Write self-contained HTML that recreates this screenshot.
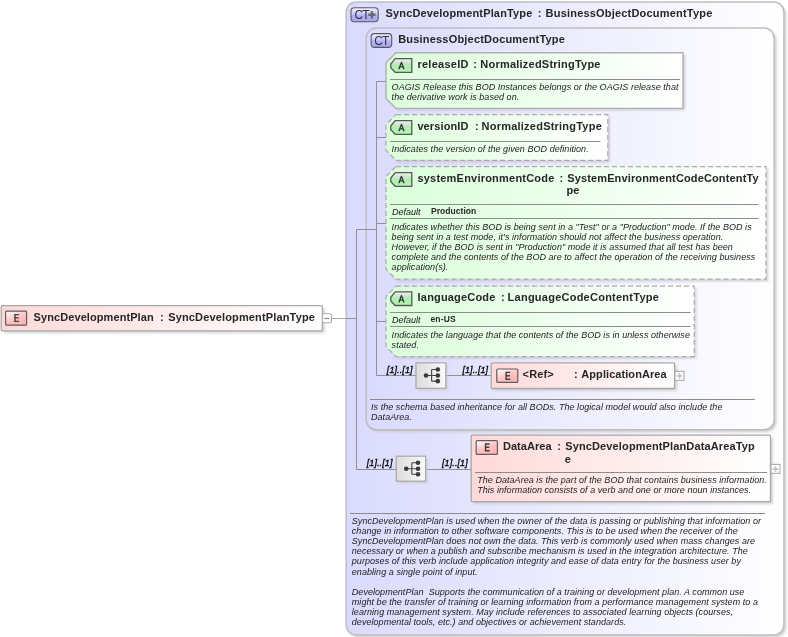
<!DOCTYPE html>
<html><head><meta charset="utf-8"><title>SyncDevelopmentPlan</title>
<style>
html,body{margin:0;padding:0;background:#FFFFFF;width:788px;height:637px;overflow:hidden}
#wrap{position:relative;width:788px;height:637px;overflow:hidden;font-family:"Liberation Sans", sans-serif}
svg{position:absolute;left:0;top:0}
#tx{position:absolute;left:0;top:0;width:788px;height:637px;will-change:transform}
#tx div{position:absolute;white-space:nowrap}
</style></head><body><div id="wrap">
<svg width="788" height="637" viewBox="0 0 788 637">
<defs>
<linearGradient id="gCT" x1="0" y1="0" x2="1" y2="0"><stop offset="0" stop-color="#DADAFE"/><stop offset="1" stop-color="#FFFFFF"/></linearGradient>
<linearGradient id="gAttr" x1="0" y1="0" x2="1" y2="0"><stop offset="0" stop-color="#DBFEDB"/><stop offset="1" stop-color="#FFFFFF"/></linearGradient>
<linearGradient id="gElem" x1="0" y1="0" x2="1" y2="0"><stop offset="0" stop-color="#FFD9D9"/><stop offset="1" stop-color="#FFFFFF"/></linearGradient>
<linearGradient id="gSeq" x1="0" y1="0" x2="1" y2="0"><stop offset="0" stop-color="#DCDCDC"/><stop offset="1" stop-color="#FAFAFA"/></linearGradient>
<linearGradient id="gCTb" x1="0" y1="0" x2="0" y2="1"><stop offset="0" stop-color="#EEEEFF"/><stop offset="0.35" stop-color="#D4D4FC"/><stop offset="0.55" stop-color="#B4B4FA"/><stop offset="1" stop-color="#A4A4F6"/></linearGradient>
<linearGradient id="gAb" x1="0" y1="0" x2="0" y2="1"><stop offset="0" stop-color="#EEF4EE"/><stop offset="0.4" stop-color="#C8E0C8"/><stop offset="0.55" stop-color="#A8F4A8"/><stop offset="1" stop-color="#C0ECC0"/></linearGradient>
<linearGradient id="gEb" x1="0" y1="0" x2="0.6" y2="1"><stop offset="0" stop-color="#FFFFFF"/><stop offset="0.35" stop-color="#FFDEDE"/><stop offset="0.6" stop-color="#FFC2C2"/><stop offset="1" stop-color="#FFB4B4"/></linearGradient>
<filter id="blur" x="-5%" y="-5%" width="110%" height="110%"><feGaussianBlur stdDeviation="1.0"/></filter>
</defs>
<rect x="3.7" y="308.1" width="321.2" height="25.2" fill="#C8C8C8" filter="url(#blur)" opacity="0.7"/>
<rect x="1.2" y="305.6" width="321.2" height="25.2" rx="1" fill="url(#gElem)" stroke="#A8A8A8" stroke-width="1.3"/>
<rect x="5.6" y="311.2" width="21" height="14" rx="1" fill="url(#gEb)" stroke="#5E5E5E" stroke-width="1.2"/>
<path d="M14.95 313.90V322.10M14.20 314.60H19.10M14.20 317.90H18.70M14.20 321.40H19.10" stroke="#404040" stroke-width="1.4" fill="none"/>
<rect x="322.5" y="313.7" width="9" height="9" rx="1.5" fill="#FFFFFF" stroke="#ABABAB" stroke-width="1.1"/>
<path d="M324.3 318.5H329.3" stroke="#8C8C8C" stroke-width="1.2"/>
<line x1="331.5" y1="318.5" x2="346" y2="318.5" stroke="#A8A8A8" stroke-width="1"/>
<rect x="348.7" y="4.5" width="437.7" height="632.9" rx="10" fill="#C8C8C8" filter="url(#blur)" opacity="0.8"/>
<rect x="346.2" y="2" width="437.7" height="632.9" rx="10" fill="url(#gCT)" stroke="#BEBEBE" stroke-width="1.5"/>
<rect x="351" y="7.7" width="27.2" height="14" rx="3.5" fill="url(#gCTb)" stroke="#5A5A5A" stroke-width="1.1"/>
<path d="M368.29999999999995 14.799999999999999H375.5M371.9 11.2V18.4" stroke="#6A6A6A" stroke-width="2.6"/>
<rect x="368.7" y="30.5" width="408" height="401.8" rx="10" fill="#C8C8C8" filter="url(#blur)" opacity="0.8"/>
<rect x="366.2" y="28" width="408" height="401.8" rx="10" fill="url(#gCT)" stroke="#BEBEBE" stroke-width="1.5"/>
<rect x="371.1" y="33.6" width="20.6" height="13.8" rx="3.5" fill="url(#gCTb)" stroke="#5A5A5A" stroke-width="1.1"/>
<line x1="346" y1="318.5" x2="356.5" y2="318.5" stroke="#909090" stroke-width="1"/>
<line x1="356.5" y1="229.5" x2="356.5" y2="469.5" stroke="#909090" stroke-width="1"/>
<line x1="356.5" y1="229.5" x2="376.5" y2="229.5" stroke="#909090" stroke-width="1"/>
<line x1="356.5" y1="469.5" x2="396" y2="469.5" stroke="#909090" stroke-width="1"/>
<line x1="376.5" y1="81.5" x2="376.5" y2="375.5" stroke="#909090" stroke-width="1"/>
<line x1="376.5" y1="81.5" x2="386" y2="81.5" stroke="#909090" stroke-width="1"/>
<line x1="376.5" y1="137.5" x2="386" y2="137.5" stroke="#909090" stroke-width="1"/>
<line x1="376.5" y1="223.5" x2="386" y2="223.5" stroke="#909090" stroke-width="1"/>
<line x1="376.5" y1="321.5" x2="386" y2="321.5" stroke="#909090" stroke-width="1"/>
<line x1="376.5" y1="375.5" x2="416" y2="375.5" stroke="#909090" stroke-width="1"/>
<line x1="446" y1="375.5" x2="491" y2="375.5" stroke="#909090" stroke-width="1"/>
<line x1="426" y1="469.5" x2="471.5" y2="469.5" stroke="#909090" stroke-width="1"/>
<path d="M398.2 55.0H685.2V110.6H398.2L388.2 100.6V65.0Z" fill="#C4C4CC" filter="url(#blur)" opacity="0.75"/>
<path d="M396 52.8H683V108.4H396L386 98.4V62.8Z" fill="url(#gAttr)" stroke="#B0B0B0" stroke-width="1.4"/>
<path d="M395.2 58.6H411.8V72.3H395.2L390.8 67.8V64.1Z" fill="url(#gAb)" stroke="#525A52" stroke-width="1.3"/>
<path d="M398.85 69.30L401.45 62.30L404.05 69.30M399.95 66.90H402.95" stroke="#333" stroke-width="1.25" fill="none" stroke-linejoin="round"/>
<line x1="390" y1="79.5" x2="680" y2="79.5" stroke="#8C8C8C" stroke-width="1"/>
<path d="M398.2 116.9H610.0V162.5H398.2L388.2 152.5V126.9Z" fill="#C4C4CC" filter="url(#blur)" opacity="0.75"/>
<path d="M396 114.7H607.8V160.3H396L386 150.3V124.7Z" fill="url(#gAttr)" stroke="#ABABAB" stroke-width="1.2" stroke-dasharray="5 3"/>
<path d="M395.2 120.6H411.8V134.29999999999998H395.2L390.8 129.79999999999998V126.1Z" fill="url(#gAb)" stroke="#525A52" stroke-width="1.3"/>
<path d="M398.85 131.30L401.45 124.30L404.05 131.30M399.95 128.90H402.95" stroke="#333" stroke-width="1.25" fill="none" stroke-linejoin="round"/>
<line x1="390" y1="141.5" x2="600.5" y2="141.5" stroke="#8C8C8C" stroke-width="1"/>
<path d="M398.2 168.79999999999998H768.2V281.4H398.2L388.2 271.4V178.79999999999998Z" fill="#C4C4CC" filter="url(#blur)" opacity="0.75"/>
<path d="M396 166.6H766V279.2H396L386 269.2V176.6Z" fill="url(#gAttr)" stroke="#ABABAB" stroke-width="1.2" stroke-dasharray="5 3"/>
<path d="M395.2 172.6H411.8V186.29999999999998H395.2L390.8 181.79999999999998V178.1Z" fill="url(#gAb)" stroke="#525A52" stroke-width="1.3"/>
<path d="M398.85 183.30L401.45 176.30L404.05 183.30M399.95 180.90H402.95" stroke="#333" stroke-width="1.25" fill="none" stroke-linejoin="round"/>
<line x1="390" y1="204.5" x2="758.5" y2="204.5" stroke="#8C8C8C" stroke-width="1"/>
<line x1="390" y1="218.5" x2="758.5" y2="218.5" stroke="#8C8C8C" stroke-width="1"/>
<path d="M398.2 288.4H696.4V358.79999999999995H398.2L388.2 348.79999999999995V298.4Z" fill="#C4C4CC" filter="url(#blur)" opacity="0.75"/>
<path d="M396 286.2H694.2V356.6H396L386 346.6V296.2Z" fill="url(#gAttr)" stroke="#ABABAB" stroke-width="1.2" stroke-dasharray="5 3"/>
<path d="M395.2 291.8H411.8V305.5H395.2L390.8 301.0V297.3Z" fill="url(#gAb)" stroke="#525A52" stroke-width="1.3"/>
<path d="M398.85 302.50L401.45 295.50L404.05 302.50M399.95 300.10H402.95" stroke="#333" stroke-width="1.25" fill="none" stroke-linejoin="round"/>
<line x1="390" y1="312.5" x2="690.5" y2="312.5" stroke="#8C8C8C" stroke-width="1"/>
<line x1="390" y1="326.5" x2="690.5" y2="326.5" stroke="#8C8C8C" stroke-width="1"/>
<rect x="418" y="364.8" width="29.8" height="25.5" fill="#C8C8C8" filter="url(#blur)" opacity="0.7"/>
<rect x="416" y="362.8" width="29.8" height="25.5" fill="url(#gSeq)" stroke="#A8A8A8" stroke-width="1.2"/>
<path d="M426 375.55H431.6M431.6 369.55V381.15000000000003M431.6 369.55H437.8M431.6 381.15000000000003H437.8M431.6 375.55H437.8" stroke="#444" stroke-width="1.1" fill="none"/>
<circle cx="426" cy="375.55" r="2.3" fill="#3A3A3A"/>
<circle cx="437.8" cy="369.55" r="2.3" fill="#3A3A3A"/>
<circle cx="437.8" cy="375.55" r="2.3" fill="#3A3A3A"/>
<circle cx="437.8" cy="381.15000000000003" r="2.3" fill="#3A3A3A"/>
<rect x="493.7" y="365.4" width="183.4" height="25.6" fill="#C8C8C8" filter="url(#blur)" opacity="0.7"/>
<rect x="491.2" y="362.9" width="183.4" height="25.6" rx="1" fill="url(#gElem)" stroke="#A8A8A8" stroke-width="1.3"/>
<rect x="496.8" y="369" width="21" height="13.4" rx="1" fill="url(#gEb)" stroke="#5E5E5E" stroke-width="1.2"/>
<path d="M506.15 371.70V379.90M505.40 372.40H510.30M505.40 375.70H509.90M505.40 379.20H510.30" stroke="#404040" stroke-width="1.4" fill="none"/>
<rect x="675" y="371.3" width="9" height="9" rx="0" fill="#FFFFFF" stroke="#ABABAB" stroke-width="1.1"/>
<path d="M676.7 375.90000000000003H682.3M679.5 373.1V378.7" stroke="#C6C6C6" stroke-width="1.9"/>
<line x1="370" y1="399.5" x2="755" y2="399.5" stroke="#8C8C8C" stroke-width="1"/>
<rect x="398.2" y="458.2" width="29.4" height="25" fill="#C8C8C8" filter="url(#blur)" opacity="0.7"/>
<rect x="396.2" y="456.2" width="29.4" height="25" fill="url(#gSeq)" stroke="#A8A8A8" stroke-width="1.2"/>
<path d="M406.2 468.7H411.8M411.8 462.7V474.3M411.8 462.7H418.0M411.8 474.3H418.0M411.8 468.7H418.0" stroke="#444" stroke-width="1.1" fill="none"/>
<circle cx="406.2" cy="468.7" r="2.3" fill="#3A3A3A"/>
<circle cx="418.0" cy="462.7" r="2.3" fill="#3A3A3A"/>
<circle cx="418.0" cy="468.7" r="2.3" fill="#3A3A3A"/>
<circle cx="418.0" cy="474.3" r="2.3" fill="#3A3A3A"/>
<rect x="473.7" y="437.6" width="299.3" height="66.6" fill="#C8C8C8" filter="url(#blur)" opacity="0.7"/>
<rect x="471.2" y="435.1" width="299.3" height="66.6" rx="1" fill="url(#gElem)" stroke="#A8A8A8" stroke-width="1.3"/>
<rect x="476.2" y="440.6" width="21.2" height="13.8" rx="1" fill="url(#gEb)" stroke="#5E5E5E" stroke-width="1.2"/>
<path d="M485.55 443.30V451.50M484.80 444.00H489.70M484.80 447.30H489.30M484.80 450.80H489.70" stroke="#404040" stroke-width="1.4" fill="none"/>
<line x1="475" y1="472.5" x2="767" y2="472.5" stroke="#8C8C8C" stroke-width="1"/>
<rect x="771" y="464.4" width="9" height="9" rx="0" fill="#FFFFFF" stroke="#ABABAB" stroke-width="1.1"/>
<path d="M772.7 469.0H778.3M775.5 466.2V471.79999999999995" stroke="#C6C6C6" stroke-width="1.9"/>
<line x1="350" y1="513.5" x2="765" y2="513.5" stroke="#8C8C8C" stroke-width="1"/>
</svg>
<div id="tx">
<div style="left:33.60px;top:310.69px;font-size:11px;line-height:13px;font-weight:bold;font-style:normal;letter-spacing:0.083px;color:#262626;">SyncDevelopmentPlan</div>
<div style="left:159.90px;top:310.69px;font-size:11px;line-height:13px;font-weight:bold;font-style:normal;letter-spacing:0.15px;color:#262626;">:</div>
<div style="left:168.20px;top:310.69px;font-size:11px;line-height:13px;font-weight:bold;font-style:normal;letter-spacing:0.148px;color:#262626;">SyncDevelopmentPlanType</div>
<div style="left:354.6px;top:9.3px;font-size:12px;line-height:13px;color:#333;letter-spacing:-1.0px">CT</div>
<div style="left:385.60px;top:7.49px;font-size:11px;line-height:13px;font-weight:bold;font-style:normal;letter-spacing:0.148px;color:#262626;">SyncDevelopmentPlanType</div>
<div style="left:537.70px;top:7.49px;font-size:11px;line-height:13px;font-weight:bold;font-style:normal;letter-spacing:0.15px;color:#262626;">:</div>
<div style="left:545.60px;top:7.49px;font-size:11px;line-height:13px;font-weight:bold;font-style:normal;letter-spacing:0.196px;color:#262626;">BusinessObjectDocumentType</div>
<div style="left:374.3px;top:35.2px;font-size:12px;line-height:13px;color:#333;letter-spacing:-1.0px">CT</div>
<div style="left:398.20px;top:33.39px;font-size:11px;line-height:13px;font-weight:bold;font-style:normal;letter-spacing:0.196px;color:#262626;">BusinessObjectDocumentType</div>
<div style="left:417.40px;top:58.49px;font-size:11px;line-height:13px;font-weight:bold;font-style:normal;letter-spacing:0.275px;color:#262626;">releaseID</div>
<div style="left:473.20px;top:58.49px;font-size:11px;line-height:13px;font-weight:bold;font-style:normal;letter-spacing:0.15px;color:#262626;">:</div>
<div style="left:480.30px;top:58.49px;font-size:11px;line-height:13px;font-weight:bold;font-style:normal;letter-spacing:0.224px;color:#262626;">NormalizedStringType</div>
<div style="left:391.6px;top:82.28px;font-size:9px;line-height:10px;font-style:italic;letter-spacing:0.05px;color:#1C1C1C">OAGIS Release this BOD Instances belongs or the OAGIS release that<br>the derivative work is based on.</div>
<div style="left:417.40px;top:120.49px;font-size:11px;line-height:13px;font-weight:bold;font-style:normal;letter-spacing:0.114px;color:#262626;">versionID</div>
<div style="left:475.00px;top:120.49px;font-size:11px;line-height:13px;font-weight:bold;font-style:normal;letter-spacing:0.15px;color:#262626;">:</div>
<div style="left:481.60px;top:120.49px;font-size:11px;line-height:13px;font-weight:bold;font-style:normal;letter-spacing:0.224px;color:#262626;">NormalizedStringType</div>
<div style="left:391.6px;top:144.38px;font-size:9px;line-height:10px;font-style:italic;letter-spacing:0.05px;color:#1C1C1C">Indicates the version of the given BOD definition.</div>
<div style="left:417.40px;top:171.89px;font-size:11px;line-height:13px;font-weight:bold;font-style:normal;letter-spacing:0.215px;color:#262626;">systemEnvironmentCode</div>
<div style="left:559.50px;top:171.89px;font-size:11px;line-height:13px;font-weight:bold;font-style:normal;letter-spacing:0.15px;color:#262626;">:</div>
<div style="left:567.20px;top:171.89px;font-size:11px;line-height:13px;font-weight:bold;font-style:normal;letter-spacing:0.137px;color:#262626;">SystemEnvironmentCodeContentTy</div>
<div style="left:566.50px;top:184.29px;font-size:11px;line-height:13px;font-weight:bold;font-style:normal;letter-spacing:0.15px;color:#262626;">pe</div>
<div style="left:391.90px;top:207.48px;font-size:9px;line-height:10px;font-weight:normal;font-style:italic;letter-spacing:0.02px;color:#141414;">Default</div>
<div style="left:431.00px;top:205.95px;font-size:8.5px;line-height:10px;font-weight:bold;font-style:normal;letter-spacing:0.05px;color:#262626;">Production</div>
<div style="left:391.6px;top:222.38px;font-size:9px;line-height:10px;font-style:italic;letter-spacing:0.05px;color:#1C1C1C">Indicates whether this BOD is being sent in a &quot;Test&quot; or a &quot;Production&quot; mode. If the BOD is<br>being sent in a test mode, it&#x27;s information should not affect the business operation.<br>However, if the BOD is sent in &quot;Production&quot; mode it is assumed that all test has been<br>complete and the contents of the BOD are to affect the operation of the receiving business<br>application(s).</div>
<div style="left:417.60px;top:291.49px;font-size:11px;line-height:13px;font-weight:bold;font-style:normal;letter-spacing:0.18px;color:#262626;">languageCode</div>
<div style="left:500.90px;top:291.49px;font-size:11px;line-height:13px;font-weight:bold;font-style:normal;letter-spacing:0.15px;color:#262626;">:</div>
<div style="left:507.60px;top:291.49px;font-size:11px;line-height:13px;font-weight:bold;font-style:normal;letter-spacing:0.245px;color:#262626;">LanguageCodeContentType</div>
<div style="left:391.90px;top:315.38px;font-size:9px;line-height:10px;font-weight:normal;font-style:italic;letter-spacing:0.02px;color:#141414;">Default</div>
<div style="left:430.40px;top:313.85px;font-size:8.5px;line-height:10px;font-weight:bold;font-style:normal;letter-spacing:0.2px;color:#262626;">en-US</div>
<div style="left:391.6px;top:329.58px;font-size:9px;line-height:10px;font-style:italic;letter-spacing:0.05px;color:#1C1C1C">Indicates the language that the contents of the BOD is in unless otherwise<br>stated.</div>
<div style="left:386.80px;top:364.68px;font-size:9px;line-height:10px;font-weight:normal;font-style:italic;letter-spacing:0.1px;color:#000;-webkit-text-stroke:0.3px #000">[1]..[1]</div>
<div style="left:462.40px;top:364.68px;font-size:9px;line-height:10px;font-weight:normal;font-style:italic;letter-spacing:0.1px;color:#000;-webkit-text-stroke:0.3px #000">[1]..[1]</div>
<div style="left:522.60px;top:368.19px;font-size:11px;line-height:13px;font-weight:bold;font-style:normal;letter-spacing:0.15px;color:#262626;">&lt;Ref&gt;</div>
<div style="left:573.90px;top:368.19px;font-size:11px;line-height:13px;font-weight:bold;font-style:normal;letter-spacing:0.15px;color:#262626;">:</div>
<div style="left:581.30px;top:368.19px;font-size:11px;line-height:13px;font-weight:bold;font-style:normal;letter-spacing:0.069px;color:#262626;">ApplicationArea</div>
<div style="left:371.0px;top:402.48px;font-size:9px;line-height:10px;font-style:italic;letter-spacing:0.05px;color:#1C1C1C">Is the schema based inheritance for all BODs. The logical model would also include the<br>DataArea.</div>
<div style="left:366.70px;top:458.08px;font-size:9px;line-height:10px;font-weight:normal;font-style:italic;letter-spacing:0.1px;color:#000;-webkit-text-stroke:0.3px #000">[1]..[1]</div>
<div style="left:442.00px;top:458.28px;font-size:9px;line-height:10px;font-weight:normal;font-style:italic;letter-spacing:0.1px;color:#000;-webkit-text-stroke:0.3px #000">[1]..[1]</div>
<div style="left:502.90px;top:439.99px;font-size:11px;line-height:13px;font-weight:bold;font-style:normal;letter-spacing:0.05px;color:#262626;">DataArea</div>
<div style="left:557.30px;top:439.99px;font-size:11px;line-height:13px;font-weight:bold;font-style:normal;letter-spacing:0.15px;color:#262626;">:</div>
<div style="left:565.20px;top:439.99px;font-size:11px;line-height:13px;font-weight:bold;font-style:normal;letter-spacing:0.133px;color:#262626;">SyncDevelopmentPlanDataAreaTyp</div>
<div style="left:564.80px;top:452.59px;font-size:11px;line-height:13px;font-weight:bold;font-style:normal;letter-spacing:0.15px;color:#262626;">e</div>
<div style="left:477.20000000000005px;top:475.48px;font-size:9px;line-height:10px;font-style:italic;letter-spacing:0.05px;color:#1C1C1C">The DataArea is the part of the BOD that contains business information.<br>This information consists of a verb and one or more noun instances.</div>
<div style="left:351.8px;top:515.92px;font-size:9px;line-height:10.12px;font-style:italic;letter-spacing:0.05px;color:#1C1C1C">SyncDevelopmentPlan is used when the owner of the data is passing or publishing that information or<br>change in information to other software components. This is to be used when the receiver of the<br>SyncDevelopmentPlan does not own the data. This verb is commonly used when mass changes are<br>necessary or when a publish and subscribe mechanism is used in the integration architecture. The<br>purposes of this verb include application integrity and ease of data entry for the business user by<br>enabling a single point of input.<br> <br>DevelopmentPlan  Supports the communication of a training or development plan. A common use<br>might be the transfer of training or learning information from a performance management system to a<br>learning management system. May include references to associated learning objects (courses,<br>developmental tools, etc.) and objectives or achievement standards.</div>
</div>
</div></body></html>
